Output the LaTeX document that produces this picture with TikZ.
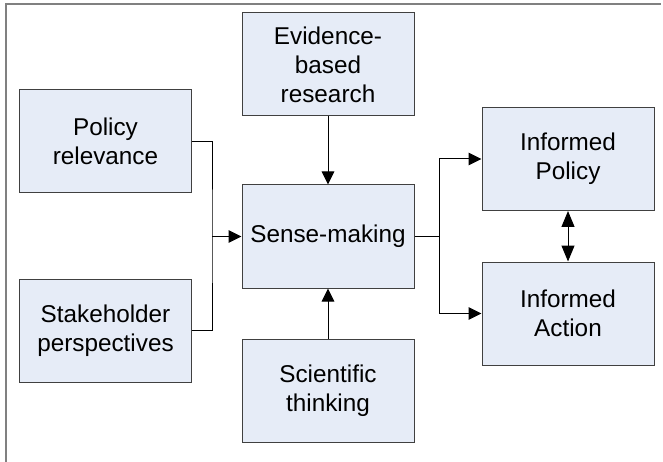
\documentclass[tikz,border=0pt]{standalone}
\usepackage{fontspec}
\setmainfont{Liberation Sans}
\usetikzlibrary{arrows.meta}
\definecolor{boxfill}{HTML}{E6ECF7}
\definecolor{boxline}{HTML}{404040}
\definecolor{framecol}{HTML}{808080}
\begin{document}
\begin{tikzpicture}[x=1pt,y=-1pt,
  blk/.style={draw=boxline,line width=1pt,fill=boxfill,minimum width=172pt,minimum height=103pt,
    inner sep=0pt,align=center,font=\fontsize{24.3}{29}\selectfont},
  conn/.style={draw=black,line width=1pt},
  arr/.style={conn,-{Triangle[length=13pt,width=12.5pt]}},
  darr/.style={conn,{Triangle[length=16pt,width=13pt]}-{Triangle[length=16pt,width=13pt]}}]
\useasboundingbox (0,0) rectangle (663,462);
\draw[framecol,line width=1.3pt] (6,462) -- (6,4) -- (661,4);
\node[blk] (pol) at (105.5,141.5) {Policy\\relevance};
\node[blk] (stk) at (105.5,330.5) {Stakeholder\\perspectives};
\node[blk] (evi) at (328,64.5) {Evidence-\\based\\research};
\node[blk] (sen) at (328,236.5) {Sense-making};
\node[blk] (sci) at (328,390.5) {Scientific\\thinking};
\node[blk] (ip) at (568,159) {Informed\\Policy};
\node[blk] (ia) at (568,313.5) {Informed\\Action};
\coordinate (j1) at (212,236.5);
\coordinate (j2) at (439,236.5);
\draw[conn] (pol.east) -| (j1) |- (stk.east);
\draw[arr] (j1) -- (sen.west);
\draw[arr] (evi.south) -- (sen.north);
\draw[arr] (sci.north) -- (sen.south);
\draw[conn] (sen.east) -- (j2);
\draw[arr] (j2) |- (ip.west);
\draw[arr] (j2) |- (ia.west);
\draw[darr] (ip.south) -- (ia.north);
\end{tikzpicture}
\end{document}
